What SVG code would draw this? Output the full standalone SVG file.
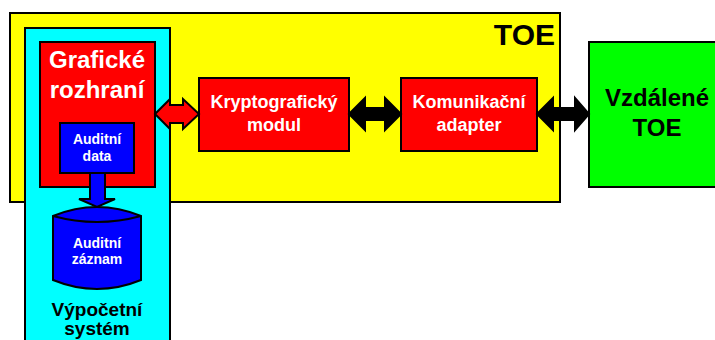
<svg xmlns="http://www.w3.org/2000/svg" width="715" height="340" viewBox="0 0 715 340">
<style>
.box{stroke:#000;stroke-width:2}
.t{font-family:"Liberation Sans",Arial,sans-serif;font-weight:bold;text-anchor:middle}
.w{fill:#fff}
.k{fill:#000}
</style>
<rect width="715" height="340" fill="#fff"/>
<g id="toe">
<rect class="box" x="10" y="13" width="550" height="189" fill="#ffff00"/>
<text class="t k" x="555" y="45" font-size="30" style="text-anchor:end">TOE</text>
</g>
<g id="vypocetni-system">
<rect class="box" x="25" y="28" width="145" height="330" fill="#00ffff"/>
<text class="t k" x="97" y="316" font-size="19">Výpočetní</text>
<text class="t k" x="97" y="335" font-size="19">systém</text>
</g>
<g id="graficke-rozhrani">
<rect class="box" x="40" y="42" width="115" height="145" fill="#ff0000"/>
<text class="t w" x="97" y="68" font-size="24">Grafické</text>
<text class="t w" x="97" y="98" font-size="24">rozhraní</text>
</g>
<g id="auditni-data">
<rect class="box" x="60" y="123" width="74" height="50" fill="#0000ff"/>
<text class="t w" x="97" y="144" font-size="14">Auditní</text>
<text class="t w" x="97" y="161" font-size="14">data</text>
</g>
<g id="auditni-zaznam">
<path class="box" d="M53,216 Q97,198 141,216 L141,280 Q97,298 53,280 Z" fill="#0000ff"/>
<path d="M53,216 Q97,228 141,216" fill="none" stroke="#000" stroke-width="2"/>
<text class="t w" x="97" y="248" font-size="14">Auditní</text>
<text class="t w" x="97" y="264" font-size="14">záznam</text>
</g>
<g id="kryptograficky-modul">
<rect class="box" x="199" y="78" width="150" height="73" fill="#ff0000"/>
<text class="t w" x="274" y="108" font-size="18">Kryptografický</text>
<text class="t w" x="274" y="131" font-size="18">modul</text>
</g>
<g id="komunikacni-adapter">
<rect class="box" x="401" y="78" width="136" height="73" fill="#ff0000"/>
<text class="t w" x="469" y="108" font-size="18">Komunikační</text>
<text class="t w" x="469" y="131" font-size="18">adapter</text>
</g>
<g id="vzdalene-toe">
<rect class="box" x="589" y="42" width="130" height="145" fill="#00ff00"/>
<text class="t k" x="657" y="106" font-size="24">Vzdálené</text>
<text class="t k" x="657" y="136" font-size="24">TOE</text>
</g>
<g id="connectors" stroke="#000" stroke-width="2" stroke-linejoin="miter">
<polygon points="90,173 105,173 105,199 115,199 97,207 79,199 90,199" fill="#0000ff"/>
<polygon points="155,114 170,99 170,105 183,105 183,99 199,114 183,129 183,123 170,123 170,129" fill="#ff0000"/>
<polygon points="349,114 365,98 365,108 385,108 385,98 401,114 385,130 385,120 365,120 365,130" fill="#000"/>
<polygon points="537,114 553,98 553,108 575,108 575,98 589,114 575,130 575,120 553,120 553,130" fill="#000"/>
</g>
</svg>
